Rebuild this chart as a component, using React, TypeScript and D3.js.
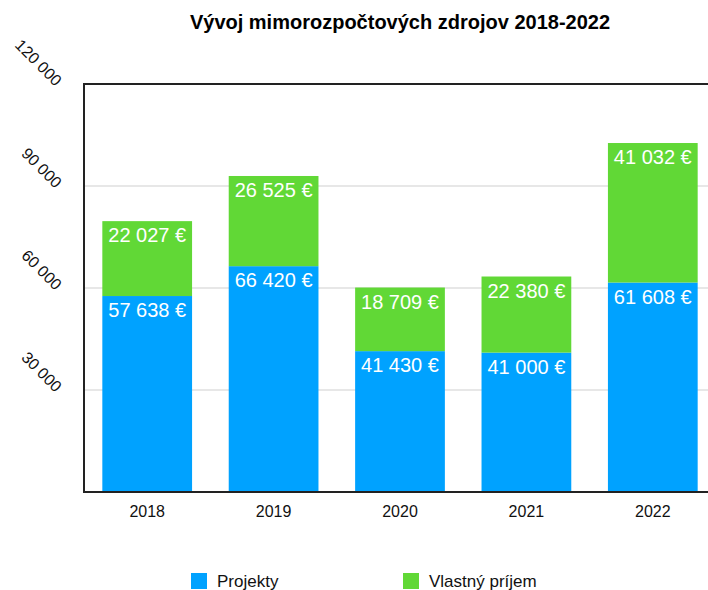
import React from "react";
import * as d3 from "d3";

const years = ["2018", "2019", "2020", "2021", "2022"];
const projekty = [57638, 66420, 41430, 41000, 61608];
const vlastny = [22027, 26525, 18709, 22380, 41032];
const yTicks = [30000, 60000, 90000, 120000];
const seriesNames = ["Projekty", "Vlastný príjem"];
const colors = ["#00A2FF", "#61D836"];

const W = 708;
const H = 590;
const FONT = "'Liberation Sans', Arial, Helvetica, sans-serif";

const fmt = (v: number) => d3.format(",")(v).replace(/,/g, " ") + " €";

export default function App() {
  const left = 84;
  const top = 84;
  const bottom = 492;
  const x = d3.scaleBand<string>().domain(years).range([left, left + 5 * 126.4]).paddingInner(0.29).paddingOuter(0.145);
  const y = d3.scaleLinear().domain([0, 120000]).range([bottom, top]);

  const stack = years.map((yr, i) => ({ yr, a: projekty[i], b: vlastny[i] }));

  return (
    <svg width={W} height={H} style={{ position: "absolute", left: 0, top: 0, background: "#fff" }} fontFamily={FONT}>
      <text x={400} y={29} textAnchor="middle" fontWeight="bold" fontSize={20} fill="#000">
        Vývoj mimorozpočtových zdrojov 2018-2022
      </text>
      {yTicks.map((t) => (
        <g key={t}>
          <line x1={left} x2={W} y1={y(t)} y2={y(t)} stroke={t === 120000 ? "#222" : "#cfcfcf"} strokeWidth={t === 120000 ? 2 : 1} />
          <text transform={`translate(${55},${y(t) + 3}) rotate(45)`} textAnchor="end" fontSize={16} fill="#111">
            {d3.format(",")(t).replace(/,/g, " ")}
          </text>
        </g>
      ))}
      {stack.map((d) => {
        const bx = x(d.yr)!;
        const bw = x.bandwidth();
        const y0 = y(0);
        const y1 = y(d.a);
        const y2 = y(d.a + d.b);
        return (
          <g key={d.yr}>
            <rect x={bx} y={y1} width={bw} height={y0 - y1} fill={colors[0]} />
            <rect x={bx} y={y2} width={bw} height={y1 - y2} fill={colors[1]} />
            <text x={bx + bw / 2} y={y1 + 21} textAnchor="middle" fontSize={20} fill="#fff">{fmt(d.a)}</text>
            <text x={bx + bw / 2} y={y2 + 21} textAnchor="middle" fontSize={20} fill="#fff">{fmt(d.b)}</text>
            <text x={bx + bw / 2} y={517} textAnchor="middle" fontSize={16} fill="#111">{d.yr}</text>
          </g>
        );
      })}
      <line x1={left} x2={left} y1={top - 1} y2={bottom + 1} stroke="#222" strokeWidth={2} />
      <line x1={left - 1} x2={W} y1={bottom} y2={bottom} stroke="#222" strokeWidth={2} />
      {seriesNames.map((n, i) => {
        const lx = [191, 403][i];
        return (
          <g key={n}>
            <rect x={lx} y={573} width={16} height={16} fill={colors[i]} />
            <text x={lx + 26} y={587} fontSize={17} fill="#111">{n}</text>
          </g>
        );
      })}
    </svg>
  );
}
